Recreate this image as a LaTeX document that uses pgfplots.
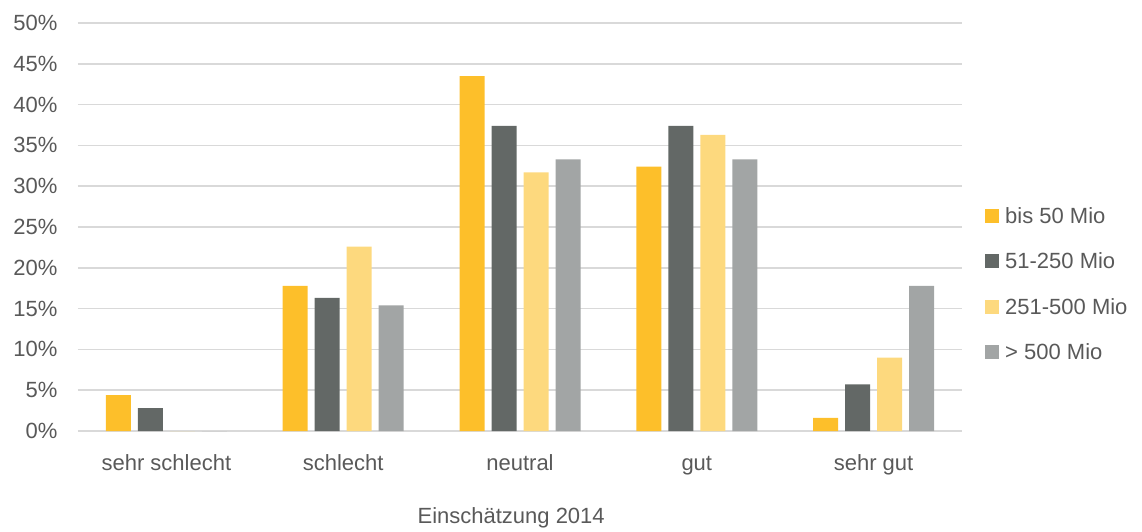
\documentclass[border=0pt]{standalone}
\usepackage{pgfplots}
\pgfplotsset{compat=1.18}
\usepackage{fontspec}
\setmainfont{Liberation Sans}
\definecolor{cA}{HTML}{FDBF2A}
\definecolor{cB}{HTML}{636866}
\definecolor{cC}{HTML}{FDD97E}
\definecolor{cD}{HTML}{A2A5A5}
\definecolor{grid}{HTML}{D9D9D9}
\definecolor{txt}{HTML}{595959}
\begin{document}
\begin{tikzpicture}[x=1pt,y=1pt]
\begin{axis}[
  scale only axis,
  width=884pt, height=408pt,
  ybar=7pt, bar width=25pt,
  xmin=-0.5, xmax=4.5,
  ymin=0, ymax=50,
  ytick={0,5,...,50},
  xtick={0,1,2,3,4},
  xticklabels={sehr schlecht,schlecht,neutral,gut,sehr gut},
  yticklabel={\pgfmathprintnumber{\tick}\%},
  /pgf/number format/assume math mode=true,
  axis line style={draw=none},
  major tick length=0pt,
  ymajorgrids,
  grid style={draw=grid, line width=1.5pt},
  tick label style={font=\fontsize{22}{26}\selectfont, text=txt},
  yticklabel style={xshift=-17pt},
  xticklabel style={text height=16pt, text depth=5pt, yshift=-20pt},
  xlabel={Einschätzung 2014},
  xlabel style={at={(axis description cs:0.49,-0.213)}, anchor=center, font=\fontsize{22}{26}\selectfont, text=txt},
  legend style={at={(axis description cs:1.026,0.36)}, anchor=west, draw=none, fill=none,
    font=\fontsize{22}{26}\selectfont, text=txt, row sep=24pt, inner sep=0pt,
    /tikz/every odd column/.append style={column sep=4pt}},
  legend cell align=left,
  legend image code/.code={\fill[#1] (0pt,-7pt) rectangle (14pt,7pt);},
]
\addplot[fill=cA, draw=none] coordinates {(0,4.4) (1,17.8) (2,43.5) (3,32.4) (4,1.6)};
\addplot[fill=cB, draw=none] coordinates {(0,2.8) (1,16.3) (2,37.4) (3,37.4) (4,5.7)};
\addplot[fill=cC, draw=none] coordinates {(0,0) (1,22.6) (2,31.7) (3,36.3) (4,9.0)};
\addplot[fill=cD, draw=none] coordinates {(0,0) (1,15.4) (2,33.3) (3,33.3) (4,17.8)};
\legend{bis 50 Mio, 51-250 Mio, 251-500 Mio, > 500 Mio}
\end{axis}
\path (current axis.south west) ++(-78pt,-100pt) rectangle ++(1142pt,531pt);
\end{tikzpicture}
\end{document}
